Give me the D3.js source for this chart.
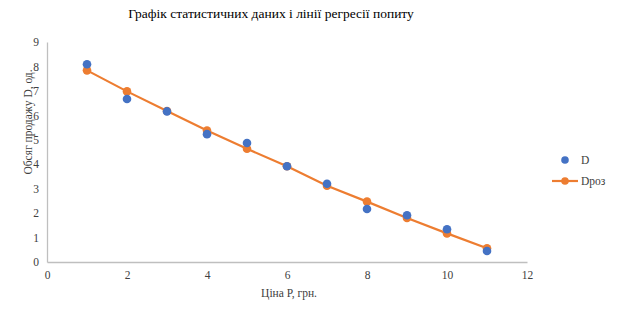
<!DOCTYPE html>
<html>
<head>
    <meta charset="utf-8">
    <style>
        html, body {
            margin: 0;
            padding: 0;
            background: #fff;
        }
        svg {
            display: block;
        }
        svg text {
            font-family: "Liberation Serif", "Times New Roman", "DejaVu Serif", serif !important;
        }
    </style>
</head>
<body>
<div id="chart"></div>
<script src="https://cdn.jsdelivr.net/npm/d3@7"></script>
<script>
    "use strict";

    const WIDTH = 617;
    const HEIGHT = 314;

    const prices = [1, 2, 3, 4, 5, 6, 7, 8, 9, 10, 11];
    const demand = [8.09, 6.67, 6.16, 5.23, 4.87, 3.92, 3.2, 2.17, 1.91, 1.34, 0.45];
    const demandCalc = [7.84, 6.98, 6.18, 5.38, 4.63, 3.92, 3.12, 2.47, 1.8, 1.17, 0.56];
    const xTicks = [0, 2, 4, 6, 8, 10, 12];
    const yTicks = [0, 1, 2, 3, 4, 5, 6, 7, 8, 9];
    const seriesNames = ["D", "Dроз"];

    const BLUE = "#4472c4";
    const ORANGE = "#ed7d31";
    const TEXT = "#404040";

    const svg = d3.select("#chart").append("svg")
        .attr("width", WIDTH)
        .attr("height", HEIGHT);

    const x = d3.scaleLinear().domain([0, 12]).range([47, 527]);
    const y = d3.scaleLinear().domain([0, 9]).range([262, 42]);

    // title
    svg.append("text")
        .attr("x", 271)
        .attr("y", 18)
        .attr("text-anchor", "middle")
        .style("font-size", "13.5px")
        .style("fill", "#000")
        .text("Графік статистичних даних і лінії регресії попиту");

    // axes
    const xAxis = svg.append("g")
        .attr("transform", "translate(0," + y(0) + ")")
        .call(d3.axisBottom(x).tickValues(xTicks).tickSize(0).tickPadding(9));
    const yAxis = svg.append("g")
        .attr("transform", "translate(" + x(0) + ",0)")
        .call(d3.axisLeft(y).tickValues(yTicks).tickSize(0).tickPadding(8));

    [xAxis, yAxis].forEach(function (g) {
        g.attr("font-family", null);
        g.select(".domain").attr("stroke", "#bfbfbf").attr("stroke-width", 1.3);
        g.selectAll("text")
            .style("font-size", "11.5px")
            .style("fill", TEXT);
    });

    // axis titles
    svg.append("text")
        .attr("x", 289)
        .attr("y", 297)
        .attr("text-anchor", "middle")
        .style("font-size", "11.5px")
        .style("fill", TEXT)
        .text("Ціна Р, грн.");

    svg.append("text")
        .attr("transform", "translate(32,122) rotate(-90)")
        .attr("text-anchor", "middle")
        .style("font-size", "11.5px")
        .style("fill", TEXT)
        .text("Обсяг продажу D, од.");

    // regression series
    const line = d3.line()
        .x(function (d, i) { return x(prices[i]); })
        .y(function (d) { return y(d); });

    svg.append("path")
        .datum(demandCalc)
        .attr("d", line)
        .attr("fill", "none")
        .attr("stroke", ORANGE)
        .attr("stroke-width", 2.2);

    svg.selectAll("circle.calc")
        .data(demandCalc)
        .enter()
        .append("circle")
        .attr("class", "calc")
        .attr("cx", function (d, i) { return x(prices[i]); })
        .attr("cy", function (d) { return y(d); })
        .attr("r", 4.3)
        .attr("fill", ORANGE);

    // statistic points
    svg.selectAll("circle.stat")
        .data(demand)
        .enter()
        .append("circle")
        .attr("class", "stat")
        .attr("cx", function (d, i) { return x(prices[i]); })
        .attr("cy", function (d) { return y(d); })
        .attr("r", 4.3)
        .attr("fill", BLUE);

    // legend
    const legend = svg.append("g");
    legend.append("circle")
        .attr("cx", 565).attr("cy", 160).attr("r", 3.8).attr("fill", BLUE);
    legend.append("line")
        .attr("x1", 552).attr("x2", 578).attr("y1", 181).attr("y2", 181)
        .attr("stroke", ORANGE).attr("stroke-width", 2.2);
    legend.append("circle")
        .attr("cx", 565).attr("cy", 181).attr("r", 3.8).attr("fill", ORANGE);
    legend.selectAll("text")
        .data(seriesNames)
        .enter()
        .append("text")
        .attr("x", 581)
        .attr("y", function (d, i) { return 164 + i * 21; })
        .style("font-size", "11.5px")
        .style("fill", TEXT)
        .text(function (d) { return d; });
</script>
</body>
</html>
